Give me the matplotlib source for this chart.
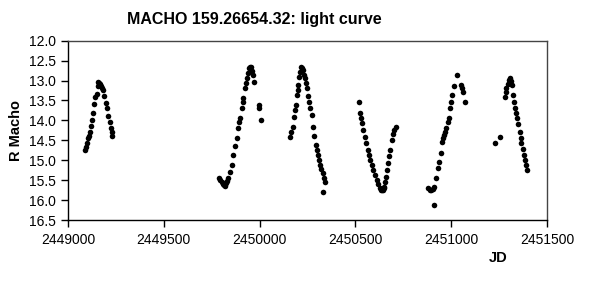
import matplotlib

matplotlib.use("Agg")
import matplotlib.pyplot as plt
from matplotlib.ticker import FormatStrFormatter

# Julian dates and R magnitudes
jd = [
    2449088, 2449092, 2449097, 2449103, 2449108, 2449115, 2449120, 2449124, 2449130,
    2449136, 2449142, 2449150, 2449155, 2449158, 2449162, 2449166, 2449172, 2449178,
    2449184, 2449190, 2449197, 2449203, 2449210, 2449218, 2449224, 2449228, 2449231,
    2449790, 2449795, 2449802, 2449808, 2449813, 2449819, 2449824, 2449830, 2449837,
    2449845, 2449854, 2449863, 2449872, 2449880, 2449889, 2449894, 2449898, 2449906,
    2449911, 2449915, 2449924, 2449929, 2449933, 2449940, 2449946, 2449950, 2449953,
    2449958, 2449964, 2449972, 2449996, 2449999, 2450007,
    2450159, 2450166, 2450173, 2450180, 2450185, 2450190, 2450194, 2450198, 2450202,
    2450207, 2450211, 2450216, 2450220, 2450225, 2450231, 2450237, 2450242, 2450246,
    2450252, 2450259, 2450265, 2450272, 2450280, 2450286, 2450294, 2450300, 2450306,
    2450312, 2450315, 2450322, 2450329, 2450335, 2450341, 2450332,
    2450519, 2450524, 2450528, 2450533, 2450540, 2450550, 2450557, 2450564, 2450570,
    2450576, 2450585, 2450593, 2450602, 2450611, 2450620, 2450628, 2450634, 2450637,
    2450642, 2450647, 2450651, 2450655, 2450658, 2450663, 2450668, 2450675, 2450681,
    2450689, 2450696, 2450703, 2450710,
    2450879, 2450887, 2450896, 2450903, 2450910, 2450908, 2450922, 2450931, 2450936,
    2450945, 2450952, 2450957, 2450962, 2450968, 2450974, 2450981, 2450987, 2450992,
    2451001, 2451006, 2451015, 2451032, 2451053, 2451058, 2451062, 2451070,
    2451230, 2451253, 2451279, 2451284, 2451288, 2451294, 2451300, 2451305, 2451311,
    2451317, 2451322, 2451327, 2451331, 2451338, 2451345, 2451351, 2451357, 2451362,
    2451366, 2451373, 2451380, 2451386, 2451392, 2451397,
]
r_mag = [
    14.75, 14.68, 14.58, 14.45, 14.38, 14.30, 14.15, 14.00, 13.82,
    13.60, 13.42, 13.35, 13.15, 13.03, 13.05, 13.10, 13.15, 13.20,
    13.24, 13.40, 13.57, 13.70, 13.90, 14.05, 14.20, 14.30, 14.40,
    15.45, 15.50, 15.55, 15.60, 15.62, 15.64, 15.58, 15.52, 15.45,
    15.30, 15.12, 14.87, 14.65, 14.44, 14.20, 14.05, 13.94, 13.69,
    13.55, 13.44, 13.19, 13.05, 12.94, 12.80, 12.68, 12.66, 12.65,
    12.75, 12.86, 13.03, 13.62, 13.70, 14.00,
    14.41, 14.30, 14.16, 13.91, 13.75, 13.61, 13.36, 13.25, 13.11,
    12.92, 12.78, 12.65, 12.68, 12.74, 12.85, 12.94, 13.05, 13.20,
    13.38, 13.53, 13.70, 13.87, 14.16, 14.40, 14.62, 14.75, 14.87,
    15.00, 15.12, 15.22, 15.32, 15.45, 15.54, 15.79,
    13.53, 13.82, 13.95, 14.07, 14.25, 14.41, 14.58, 14.74, 14.88,
    15.00, 15.12, 15.25, 15.38, 15.50, 15.60, 15.70, 15.74, 15.75,
    15.74, 15.70, 15.66, 15.55, 15.41, 15.25, 15.08, 14.90, 14.74,
    14.49, 14.35, 14.24, 14.16,
    15.70, 15.74, 15.75, 15.72, 15.66, 16.12, 15.45, 15.20, 15.04,
    14.83, 14.54, 14.45, 14.37, 14.28, 14.20, 14.05, 13.95, 13.70,
    13.53, 13.36, 13.15, 12.86, 13.11, 13.20, 13.28, 13.53,
    14.58, 14.41, 13.41, 13.30, 13.20, 13.08, 12.99, 12.94, 13.00,
    13.11, 13.36, 13.55, 13.70, 13.82, 13.95, 14.10, 14.28, 14.45,
    14.58, 14.72, 14.87, 15.00, 15.12, 15.25,
]

x_ticks = [2449000, 2449500, 2450000, 2450500, 2451000, 2451500]
y_ticks = [12.0, 12.5, 13.0, 13.5, 14.0, 14.5, 15.0, 15.5, 16.0, 16.5]

plt.rcParams["font.family"] = ["Liberation Sans", "DejaVu Sans"]

fig = plt.figure(figsize=(5.89, 2.94), dpi=100)
ax = fig.add_axes([0.1155, 0.2517, 0.8132, 0.61])

ax.plot(jd, r_mag, "o", color="black", markersize=4.0, markeredgewidth=0)

ax.set_xlim(x_ticks[0], x_ticks[-1])
ax.set_ylim(16.5, 12.0)   # magnitudes: brighter on top
ax.set_xticks(x_ticks)
ax.set_yticks(y_ticks)
ax.xaxis.set_major_formatter(FormatStrFormatter("%d"))
ax.yaxis.set_major_formatter(FormatStrFormatter("%.1f"))
ax.tick_params(direction="out", length=5, width=1, labelsize=10, pad=4,
               top=False, right=False)

for side in ax.spines.values():
    side.set_linewidth(1)
ax.spines["top"].set_color("#444444")
ax.spines["right"].set_color("#444444")

ax.set_ylabel("R Macho", fontsize=10.5, fontweight="bold")
ax.yaxis.set_label_coords(-0.094, 0.5)
ax.set_xlabel("JD", fontsize=10.5, fontweight="bold")
ax.xaxis.set_label_coords(0.898, -0.173)

fig.text(0.431, 0.932, "MACHO 159.26654.32: light curve", ha="center", va="center",
         fontsize=11.5, fontweight="bold")

fig.savefig("out.png", dpi=100)
plt.close(fig)
